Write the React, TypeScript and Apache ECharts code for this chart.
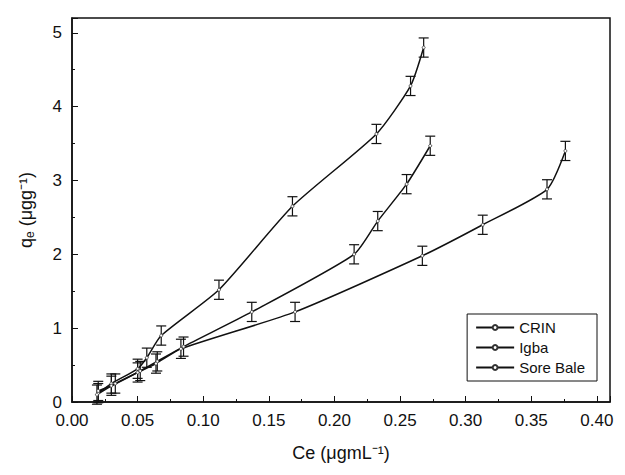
import { useEffect, useRef } from 'react';
import * as echarts from 'echarts';

const crinX = [0.02, 0.03, 0.05, 0.057, 0.068, 0.112, 0.168, 0.232, 0.258, 0.268];
const crinY = [0.12, 0.25, 0.45, 0.6, 0.9, 1.52, 2.65, 3.63, 4.28, 4.8];
const igbaX = [0.02, 0.03, 0.052, 0.065, 0.085, 0.137, 0.215, 0.233, 0.255, 0.273];
const igbaY = [0.15, 0.22, 0.42, 0.55, 0.75, 1.22, 2.0, 2.45, 2.95, 3.47];
const soreX = [0.019, 0.033, 0.05, 0.064, 0.083, 0.17, 0.267, 0.313, 0.362, 0.376];
const soreY = [0.1, 0.25, 0.4, 0.52, 0.72, 1.22, 1.98, 2.4, 2.88, 3.4];
const errY = 0.13;

const names = ['CRIN', 'Igba', 'Sore Bale'];
const font = 'Liberation Sans, Arial';

export default function App() {
  const ref = useRef<HTMLDivElement>(null);

  useEffect(() => {
    if (!ref.current) return;
    const chart = echarts.init(ref.current, null, { renderer: 'svg' });
    const sets = [
      [crinX, crinY],
      [igbaX, igbaY],
      [soreX, soreY],
    ];
    const series: echarts.SeriesOption[] = [];
    sets.forEach(([xs, ys], i) => {
      const pts = xs.map((x, k) => [x, ys[k]]);
      series.push({
        name: names[i],
        type: 'line',
        smooth: 0.2,
        data: pts,
        symbol: 'circle',
        symbolSize: 3,
        lineStyle: { color: '#111', width: 1.5 },
        itemStyle: { color: '#fff', borderColor: '#333', borderWidth: 0.8 },
      });
      series.push({
        type: 'custom',
        silent: true,
        data: pts.map(([x, y]) => [x, y - errY, y + errY]),
        renderItem: (_p: any, api: any) => {
          const lo = api.coord([api.value(0), api.value(1)]);
          const hi = api.coord([api.value(0), api.value(2)]);
          const w = 5;
          const st = { stroke: '#111', lineWidth: 1.2 };
          return {
            type: 'group',
            children: [
              { type: 'line', shape: { x1: lo[0], y1: lo[1], x2: hi[0], y2: hi[1] }, style: st },
              { type: 'line', shape: { x1: lo[0] - w, y1: lo[1], x2: lo[0] + w, y2: lo[1] }, style: st },
              { type: 'line', shape: { x1: hi[0] - w, y1: hi[1], x2: hi[0] + w, y2: hi[1] }, style: st },
            ],
          };
        },
      } as any);
    });

    const axisCommon = {
      axisLine: { show: true, lineStyle: { color: '#111', width: 1.5 } },
      axisTick: { show: true, inside: true, length: 6, lineStyle: { color: '#111' } },
      minorTick: { show: true, splitNumber: 2, length: 3, lineStyle: { color: '#111' } },
      splitLine: { show: false },
      axisLabel: { color: '#111', fontSize: 17, fontFamily: font, showMaxLabel: false, margin: 10 },
    };

    chart.setOption({
      animation: false,
      grid: { left: 64, right: 7, top: 10, bottom: 62, show: true, borderColor: '#111', borderWidth: 1.5 },
      xAxis: {
        type: 'value', min: 0, max: 0.41, interval: 0.05,
        name: 'Ce (μgmL⁻¹)', nameLocation: 'middle', nameGap: 42,
        nameTextStyle: { color: '#111', fontSize: 18, fontFamily: font },
        ...axisCommon,
        axisLabel: { ...axisCommon.axisLabel, formatter: (v: number) => v.toFixed(2) },
      },
      yAxis: {
        type: 'value', min: 0, max: 5.2, interval: 1,
        name: '{a|q}{b|e}{a| (μgg⁻¹)}', nameLocation: 'middle', nameGap: 36,
        nameTextStyle: {
          color: '#111', fontFamily: font,
          rich: {
            a: { fontSize: 18, fontFamily: font, color: '#111' },
            b: { fontSize: 12, fontFamily: font, color: '#111', padding: [8, 0, 0, 0] },
          },
        },
        ...axisCommon,
      },
      legend: {
        data: names,
        orient: 'vertical',
        right: 20,
        top: 306,
        itemWidth: 38,
        itemHeight: 6,
        itemGap: 5,
        padding: [6, 12, 6, 8],
        borderColor: '#111',
        borderWidth: 1,
        backgroundColor: '#fff',
        textStyle: { color: '#111', fontSize: 15, fontFamily: font },
      },
      series,
    });
    return () => chart.dispose();
  }, []);

  return <div ref={ref} style={{ width: 609, height: 459 }} />;
}
